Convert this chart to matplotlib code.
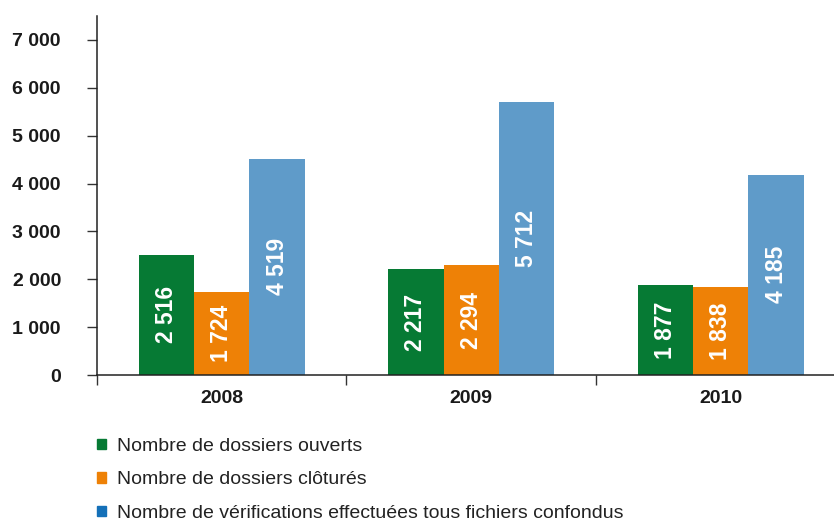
import numpy as np
import matplotlib.pyplot as plt
from matplotlib.patches import Patch

plt.rcParams['font.family'] = ['Liberation Sans', 'DejaVu Sans']

years = ['2008', '2009', '2010']
ouverts = [2516, 2217, 1877]
clotures = [1724, 2294, 1838]
verifs = [4519, 5712, 4185]

series_labels = ['Nombre de dossiers ouverts',
                 'Nombre de dossiers clôturés',
                 'Nombre de vérifications effectuées tous fichiers confondus']
bar_colors = ['#067a34', '#ee8106', '#5f9bc9']
legend_colors = ['#067a34', '#ee8106', '#1470b8']


def fmt(v):
    return '{:,}'.format(v).replace(',', ' ')


fig = plt.figure(figsize=(8.34, 5.26), dpi=100)
ax = fig.add_axes([97 / 834, 151 / 526, 737 / 834, 359 / 526])

x = np.arange(len(years))
w = 0.222
for k, vals in enumerate([ouverts, clotures, verifs]):
    bars = ax.bar(x + (k - 1) * w, vals, w, color=bar_colors[k], linewidth=0)
    for b, v in zip(bars, vals):
        ax.text(b.get_x() + b.get_width() / 2, v / 2, fmt(v), rotation=90,
                ha='center', va='center', color='white', fontsize=16.5,
                fontweight='bold')

ax.set_xlim(-0.5, 2.454)
ax.set_ylim(0, 7500)
ax.set_yticks(range(0, 7001, 1000))
ax.set_yticklabels([fmt(v) for v in range(0, 7001, 1000)],
                   fontsize=14, fontweight='bold', color='#1a1a1a')
ax.tick_params(axis='y', length=7, width=1, color='#333333', pad=19)

ax.set_xticks(x)
ax.set_xticklabels(years, fontsize=14, fontweight='bold', color='#1a1a1a')
ax.tick_params(axis='x', which='major', length=0, pad=11)
ax.set_xticks([-0.5, 0.5, 1.5], minor=True)
ax.tick_params(axis='x', which='minor', length=7, width=1, color='#333333')

for s in ['top', 'right']:
    ax.spines[s].set_visible(False)
for s in ['left', 'bottom']:
    ax.spines[s].set_color('#222222')
    ax.spines[s].set_linewidth(1.1)

handles = [Patch(color=c) for c in legend_colors]
fig.legend(handles, series_labels, loc='upper left',
           bbox_to_anchor=(89 / 834, 1 - 430 / 526), frameon=False,
           borderaxespad=0, fontsize=14, handlelength=0.46,
           handleheight=0.46, handletextpad=0.56, labelspacing=0.85,
           labelcolor='#222222')

fig.savefig('out.png', dpi=100)
